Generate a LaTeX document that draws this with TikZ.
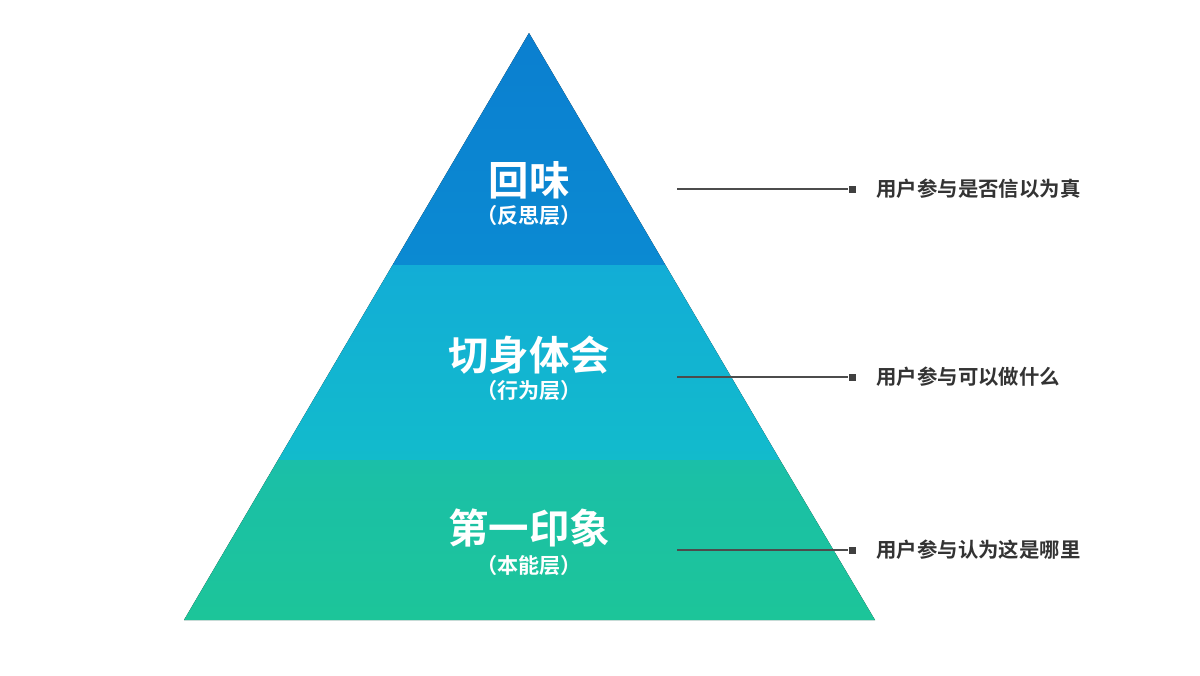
\documentclass[tikz,border=0pt]{standalone}
\usepackage{fontspec}
\newfontfamily\cjk{Noto Sans CJK SC Bold}
\definecolor{c1a}{HTML}{0B7FD0}\definecolor{c1b}{HTML}{0B8AD2}
\definecolor{c2a}{HTML}{12ADD6}\definecolor{c2b}{HTML}{12BBCC}
\definecolor{c3a}{HTML}{1BBFA8}\definecolor{c3b}{HTML}{1CC599}
\begin{document}
\begin{tikzpicture}[x=0.01cm,y=-0.01cm,
 title/.style={text=white,font=\cjk\fontsize{11.5}{13}\selectfont,align=center},
 sub/.style={text=white,font=\cjk\fontsize{6}{7}\selectfont},
 lbl/.style={anchor=west,text=black!80,font=\cjk\fontsize{5.8}{7}\selectfont},
 lead/.style={draw=black!70,line width=0.5pt},
 sq/.style={fill=black!75,minimum size=0.07cm,inner sep=0pt}]
\useasboundingbox (0,0) rectangle (1200,675);
\fill[fill=white] (0,0) rectangle (1200,675);
\fill[top color=c1a,bottom color=c1b] (529,33) -- (665.4,265) -- (392.6,265) -- cycle;
\fill[top color=c2a,bottom color=c2b] (392.6,265) -- (665.4,265) -- (780,460) -- (278,460) -- cycle;
\fill[top color=c3a,bottom color=c3b] (278,460) -- (780,460) -- (875,620) -- (184,620) -- cycle;
\node[title] (t1) at (529,180) {回味};
\node[sub] (s1) at (529,215) {（反思层）};
\node[title] (t2) at (529,355) {切身体会};
\node[sub] (s2) at (529,390) {（行为层）};
\node[title] (t3) at (529,528) {第一印象};
\node[sub] (s3) at (529,565) {（本能层）};
\coordinate (a1) at (677,189);
\coordinate (a2) at (677,377);
\coordinate (a3) at (677,550);
\node[sq] (m1) at (852,189) {};
\node[sq] (m2) at (852,377) {};
\node[sq] (m3) at (852,550) {};
\draw[lead] (a1) -- (m1.west);
\draw[lead] (a2) -- (m2.west);
\draw[lead] (a3) -- (m3.west);
\node[lbl] (l1) at (864,189) {用户参与是否信以为真};
\node[lbl] (l2) at (864,377) {用户参与可以做什么};
\node[lbl] (l3) at (864,550) {用户参与认为这是哪里};
\end{tikzpicture}
\end{document}
